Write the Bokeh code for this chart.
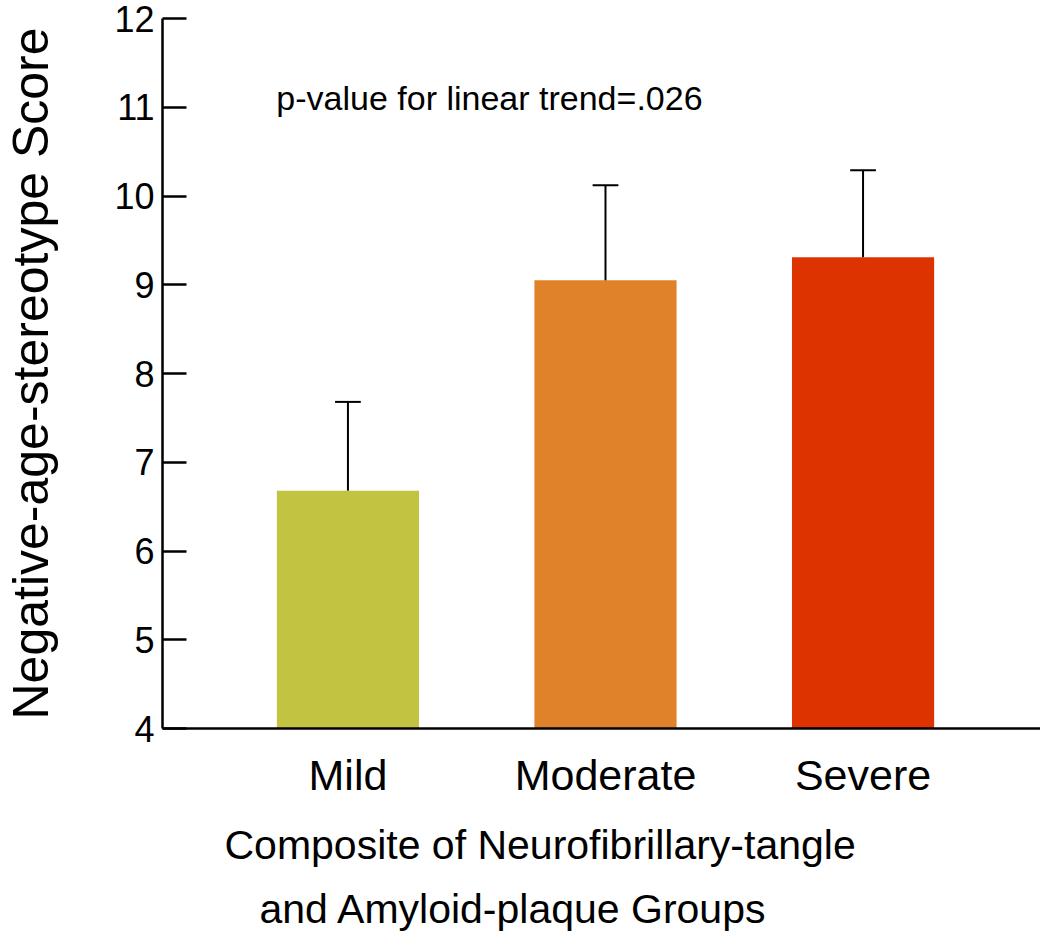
from bokeh.plotting import figure
from bokeh.models import Range1d, FixedTicker, Label, ColumnDataSource, Title
from bokeh.embed import file_html
from bokeh.resources import INLINE

# ---- data ----
categories = ["Mild", "Moderate", "Severe"]
means = [6.68, 9.05, 9.31]
errors = [1.00, 1.07, 0.98]
colors = ["#C2C341", "#E0822A", "#DC3300"]
y_ticks = [4, 5, 6, 7, 8, 9, 10, 11, 12]
annotation = "p-value for linear trend=.026"
y_title = "Negative-age-stereotype Score"
x_title_lines = ["Composite of Neurofibrillary-tangle", "and Amyloid-plaque Groups"]

positions = [i + 1 for i in range(len(categories))]
tops = [m + e for m, e in zip(means, errors)]
FONT = "Liberation Sans"

p = figure(width=1040, height=941, output_backend="svg", toolbar_location=None,
           x_range=Range1d(0.28, 3.689), y_range=Range1d(4, 12),
           min_border_left=157, min_border_right=0, min_border_top=18,
           min_border_bottom=213)
p.outline_line_color = None
p.xgrid.grid_line_color = None
p.ygrid.grid_line_color = None
p.background_fill_color = "white"
p.border_fill_color = "white"

src = ColumnDataSource(dict(x=positions, top=means, up=tops, color=colors,
                            c0=[x - 0.05 for x in positions],
                            c1=[x + 0.05 for x in positions]))
p.vbar(x="x", top="top", bottom=4, width=0.552, fill_color="color",
       line_color=None, source=src)
p.segment(x0="x", y0="top", x1="x", y1="up", line_color="black",
          line_width=2, source=src)
p.segment(x0="c0", y0="up", x1="c1", y1="up", line_color="black",
          line_width=2, source=src)

# y axis
ya = p.yaxis[0]
ya.ticker = FixedTicker(ticks=y_ticks)
ya.minor_tick_line_color = None
ya.major_tick_in = 24
ya.major_tick_out = 0
ya.axis_line_width = 2.5
ya.major_tick_line_width = 2.5
ya.axis_line_color = "black"
ya.major_tick_line_color = "black"
ya.major_label_text_font = FONT
ya.major_label_text_font_size = "36px"
ya.major_label_text_color = "black"
ya.major_label_standoff = 8
ya.axis_label = y_title
ya.axis_label_text_font = FONT
ya.axis_label_text_font_size = "50px"
ya.axis_label_text_font_style = "normal"
ya.axis_label_text_color = "black"
ya.axis_label_standoff = 52

# x axis
xa = p.xaxis[0]
xa.ticker = FixedTicker(ticks=positions)
xa.major_label_overrides = {pos: c for pos, c in zip(positions, categories)}
xa.minor_tick_line_color = None
xa.major_tick_in = 0
xa.major_tick_out = 0
xa.major_tick_line_color = None
xa.axis_line_width = 2.5
xa.axis_line_color = "black"
xa.major_label_text_font = FONT
xa.major_label_text_font_size = "43px"
xa.major_label_text_color = "black"
xa.major_label_standoff = 22

p.add_layout(Label(x=0.722, y=11.1, text=annotation, text_font=FONT,
                   text_font_size="34px", text_color="black",
                   text_align="left", text_baseline="alphabetic"))

t1 = Title(text=x_title_lines[0], align="left", offset=62, standoff=36,
           text_font=FONT, text_font_size="41px", text_font_style="normal",
           text_color="black", vertical_align="bottom")
t2 = Title(text=x_title_lines[1], align="left", offset=97, standoff=0,
           text_font=FONT, text_font_size="41px", text_font_style="normal",
           text_color="black", vertical_align="top")
p.add_layout(t1, "below")
p.add_layout(t2, "below")

open("out.html", "w").write(file_html(p, INLINE))
